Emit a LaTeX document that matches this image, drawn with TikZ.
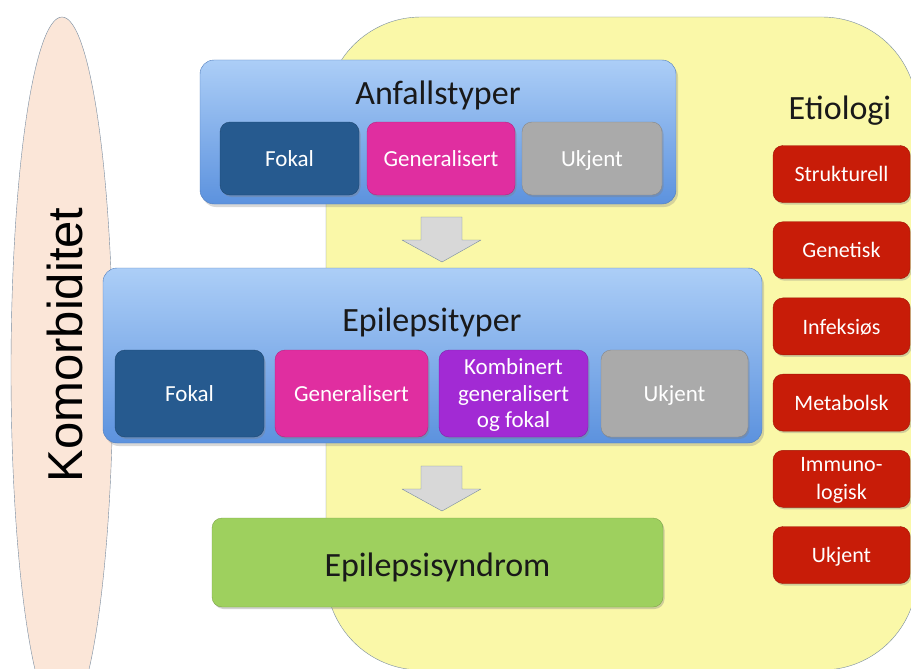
\documentclass[tikz,border=0pt]{standalone}
\usepackage{fontspec}
\setmainfont{Carlito}
\newfontfamily\komfont{Liberation Sans}
\usetikzlibrary{shadows}

\definecolor{gulbg}{RGB}{250,248,168}
\definecolor{gulkant}{RGB}{120,140,160}
\definecolor{fersken}{RGB}{251,230,216}
\definecolor{blalys}{RGB}{172,206,247}
\definecolor{blamork}{RGB}{92,146,222}
\definecolor{fokalbla}{RGB}{38,90,143}
\definecolor{genrosa}{RGB}{224,46,160}
\definecolor{kombilla}{RGB}{162,42,212}
\definecolor{ukjentgra}{RGB}{170,170,170}
\definecolor{etirod}{RGB}{200,28,8}
\definecolor{syndgronn}{RGB}{158,208,94}
\definecolor{pilgra}{RGB}{216,216,216}

\tikzset{
  gruppe/.style={draw=blamork!85!black, rounded corners=14pt, top color=blalys, bottom color=blamork,
    drop shadow={opacity=0.3, shadow xshift=2pt, shadow yshift=-3pt}},
  typeboks/.style={draw=#1!80!black, fill=#1, rounded corners=10pt, text=white, inner sep=0pt,
    font=\fontsize{23}{26.5}\selectfont, align=center, text depth=0pt,
    drop shadow={opacity=0.35, shadow xshift=1.5pt, shadow yshift=-2pt}},
  tittel/.style={font=\fontsize{34}{40}\selectfont, text=black!90},
  etiboks/.style={typeboks=etirod, minimum width=137pt, minimum height=57pt, font=\fontsize{22}{28}\selectfont},
  pil/.style={draw=gulkant, fill=pilgra, line join=round}
}

\begin{document}
\begin{tikzpicture}[x=1pt, y=-1pt]
	\useasboundingbox (0,0) rectangle (911,669);
	\clip (0,0) rectangle (911,669);
	\fill[white] (0,0) rectangle (911,669);

	% bakgrunn
	\draw[gulkant, fill=gulbg, rounded corners=95pt] (326,17) rectangle (917,670);
	\draw[gulkant, fill=fersken] (62,370) ellipse [x radius=51, y radius=353];
	\node[rotate=90, font=\komfont\fontsize{49}{56}\selectfont] (komorb) at (65,345) {Komorbiditet};

	% anfallstyper
	\node[gruppe, minimum width=476pt, minimum height=144pt] (anfall) at (438,132) {};
	\node[tittel, anchor=base] (anfalltittel) at (438,105) {Anfallstyper};
	\foreach \navn/\tekst/\farge/\xx/\bb in {afokal/Fokal/fokalbla/289.5/139, agen/Generalisert/genrosa/441/148, aukj/Ukjent/ukjentgra/592/140}
		\node[typeboks=\farge, minimum width=\bb pt, minimum height=73pt] (\navn) at (\xx,158.5) {\tekst};

	% epilepsityper
	\node[gruppe, minimum width=659pt, minimum height=175pt] (epityp) at (432.5,355.5) {};
	\node[tittel, anchor=base] (epitittel) at (432,331) {Epilepsityper};
	\foreach \navn/\tekst/\farge/\xx/\bb in {efokal/Fokal/fokalbla/189.5/149, egen/Generalisert/genrosa/351.5/153,
		ekomb/{Kombinert\\generalisert\\og fokal}/kombilla/513.5/149, eukj/Ukjent/ukjentgra/674.5/147}
		\node[typeboks=\farge, minimum width=\bb pt, minimum height=87pt] (\navn) at (\xx,393.5) {\tekst};

	% piler
	\foreach \dy in {0,249}
		\draw[pil, shift={(0,\dy)}] (421,217) -- (462,217) -- (462,240) -- (481,240) -- (442,262) -- (402,240) -- (421,240) -- cycle;

	% syndrom
	\node[typeboks=syndgronn, minimum width=451pt, minimum height=89pt] (syndrom) at (437.5,562.5) {};
	\node[tittel, anchor=base] (syndtekst) at (437.5,576) {Epilepsisyndrom};

	% etiologi
	\node[tittel, anchor=base] (etitittel) at (840,119) {Etiologi};
	\foreach \tekst [count=\i from 0] in {Strukturell, Genetisk, Infeksiøs, Metabolsk, {Immuno-\\logisk}, Ukjent}
		\node[etiboks] (eti\i) at (841.5,{174+76.2*\i}) {\tekst};
\end{tikzpicture}
\end{document}
